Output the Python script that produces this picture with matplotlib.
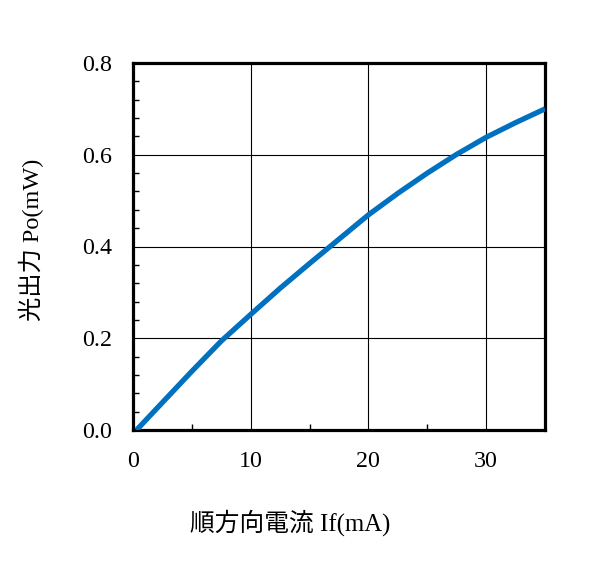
import matplotlib
matplotlib.use("Agg")
import matplotlib.pyplot as plt
from matplotlib.ticker import MultipleLocator

current = [0.3, 2.5, 5, 7.5, 10, 12.5, 15, 17.5, 20, 22.5, 25, 27.5, 30, 32.5, 35]
power = [0.0, 0.06, 0.128, 0.194, 0.252, 0.309, 0.363, 0.416, 0.469, 0.516, 0.56, 0.601, 0.638, 0.67, 0.7]
xticks = [0, 10, 20, 30]
yticks = [0.0, 0.2, 0.4, 0.6, 0.8]

fam = ['Liberation Serif', 'Noto Sans CJK JP']
plt.rcParams['font.family'] = fam

fig = plt.figure(figsize=(5.89, 5.79), dpi=100)
ax = fig.add_axes([133/589, 1-430/579, (545-133)/589, (430-63)/579])
ax.plot(current, power, color='#0070C0', lw=3.8, solid_capstyle='butt',
        solid_joinstyle='round', zorder=3)
ax.set_xlim(0, 35)
ax.set_ylim(0, 0.8)
ax.set_xticks(xticks)
ax.set_yticks(yticks)
ax.set_yticklabels([f"{v:.1f}" for v in yticks])
ax.xaxis.set_minor_locator(MultipleLocator(5))
ax.yaxis.set_minor_locator(MultipleLocator(0.04))
ax.grid(True, which='major', color='black', lw=0.8)
ax.tick_params(which='major', length=0, labelsize=17.3, pad=15)
ax.tick_params(which='minor', direction='in', length=4, width=1, color='black')
for s in ax.spines.values():
    s.set_linewidth(2.3)
    s.set_color('black')
fig.text(290/589, 1-523/579, '順方向電流 If(mA)', ha='center', va='center', fontsize=17.8, family=fam)
fig.text(31/589, 1-240/579, '光出力 Po(mW)', ha='center', va='center', rotation=90, fontsize=17.5, family=fam)
fig.savefig('out.png', dpi=100)
